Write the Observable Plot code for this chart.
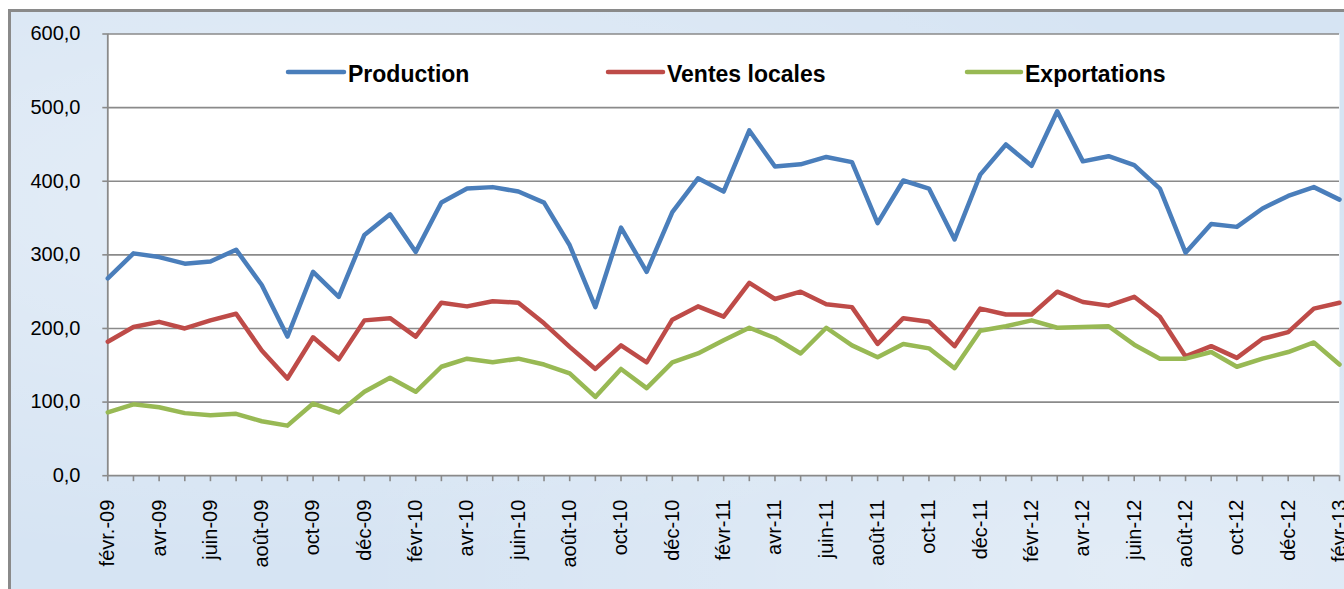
<!DOCTYPE html>
<html>
<head>
<meta charset="utf-8">
<script src="https://cdn.jsdelivr.net/npm/d3@7"></script>
<script src="https://cdn.jsdelivr.net/npm/@observablehq/plot@0.6"></script>
<style>
  html, body { margin: 0; padding: 0; background: #ffffff; }
  #wrap { position: relative; width: 1344px; height: 589px; overflow: hidden; }
  #bg {
    position: absolute; left: 8px; top: 9px; width: 1400px; height: 620px;
    border-left: 3px solid #8a8a8a; border-top: 3px solid #8a8a8a;
    background:
      radial-gradient(ellipse at 20% 30%, rgba(255,255,255,0.35), rgba(255,255,255,0) 60%),
      radial-gradient(ellipse at 80% 90%, rgba(255,255,255,0.3), rgba(255,255,255,0) 50%),
      #d6e4f3;
  }
  #chart { position: absolute; left: 0; top: 0; }
</style>
</head>
<body>
<div id="wrap"><div id="bg"></div><div id="chart"></div></div>
<script>
const months = [
  "févr.-09","mars-09","avr-09","mai-09","juin-09","juil.-09","août-09","sept.-09","oct-09","nov.-09","déc-09",
  "janv.-10","févr-10","mars-10","avr-10","mai-10","juin-10","juil.-10","août-10","sept.-10","oct-10","nov.-10","déc-10",
  "janv.-11","févr-11","mars-11","avr-11","mai-11","juin-11","juil.-11","août-11","sept.-11","oct-11","nov.-11","déc-11",
  "janv.-12","févr-12","mars-12","avr-12","mai-12","juin-12","juil.-12","août-12","sept.-12","oct-12","nov.-12","déc-12",
  "janv.-13","févr-13"
];
const xTickLabels = [
  "févr.-09","avr-09","juin-09","août-09","oct-09","déc-09",
  "févr-10","avr-10","juin-10","août-10","oct-10","déc-10",
  "févr-11","avr-11","juin-11","août-11","oct-11","déc-11",
  "févr-12","avr-12","juin-12","août-12","oct-12","déc-12","févr-13"
];
const production = [
  268,302,297,288,291,307,259,189,277,243,327,355,304,
  371,390,392,386,371,313,229,337,277,358,404,386,469,
  420,423,433,426,343,401,390,321,409,450,421,495,427,
  434,422,390,303,342,338,363,380,392,375
];
const ventesLocales = [
  182,202,209,200,211,220,170,132,188,158,211,214,189,
  235,230,237,235,207,175,145,177,154,212,230,216,262,
  240,250,233,229,179,214,209,176,227,219,219,250,236,
  231,243,216,162,176,160,186,195,227,235
];
const exportations = [
  86,97,93,85,82,84,74,68,98,86,114,133,114,
  148,159,154,159,151,139,107,145,119,154,166,184,201,
  187,166,201,177,161,179,173,146,197,203,211,201,202,
  203,178,159,159,168,148,159,168,181,151
];
const seriesNames = ["Production", "Ventes locales", "Exportations"];
const seriesColors = ["#4a7ebb", "#be4b48", "#98b954"];
const yTicks = [0, 100, 200, 300, 400, 500, 600];

const seriesValues = [production, ventesLocales, exportations];
const rows = [];
seriesNames.forEach((name, s) => {
  seriesValues[s].forEach((v, i) => rows.push({month: months[i], value: v, serie: name}));
});

const gray = "#8a8a8a";
const fmt = d => d.toFixed(1).replace(".", ",");

const chart = Plot.plot({
  width: 1344,
  height: 589,
  marginTop: 33.5,
  marginLeft: 107.3,
  marginRight: 5,
  marginBottom: 113.8,
  style: {background: "transparent", fontFamily: "'Liberation Sans', Arial, sans-serif", fontSize: "20px", color: "#000", overflow: "visible"},
  x: {type: "point", domain: months, padding: 0, axis: null},
  y: {domain: [0, 600], axis: null},
  color: {domain: seriesNames, range: seriesColors},
  marks: [
    Plot.frame({fill: "white", stroke: null}),
    Plot.ruleY(yTicks.slice(1), {stroke: gray, strokeWidth: 1.6}),
    Plot.axisY({ticks: yTicks, tickSize: 5, tickPadding: 22.3, tickFormat: fmt, label: null,
                stroke: gray, strokeWidth: 1.6, fontSize: 20, fill: "#000"}),
    Plot.axisX({ticks: months, tickSize: 6, tickFormat: () => "", label: null, stroke: gray, strokeWidth: 1.6}),
    Plot.ruleY([0], {stroke: gray, strokeWidth: 1.8}),
    Plot.ruleX([months[0]], {stroke: gray, strokeWidth: 1.8}),
    Plot.text(xTickLabels, {x: d => d, text: d => d, frameAnchor: "bottom", dy: 24, rotate: -90,
                            textAnchor: "end", lineAnchor: "middle", fontSize: 20, fill: "#000"}),
    Plot.line(rows, {x: "month", y: "value", z: "serie", stroke: "serie", strokeWidth: 4.5,
                     strokeLinejoin: "round", strokeLinecap: "round"})
  ]
});
document.getElementById("chart").appendChild(chart);

// Legend (inside plot area, top)
const legendPos = [
  {x1: 288, x2: 344, tx: 348},
  {x1: 608, x2: 663, tx: 667},
  {x1: 967, x2: 1021, tx: 1025}
];
const svg = d3.select(chart);
const lg = svg.append("g").attr("class", "legend").attr("text-anchor", "start");
seriesNames.forEach((name, i) => {
  const p = legendPos[i];
  lg.append("line").attr("x1", p.x1).attr("x2", p.x2).attr("y1", 72).attr("y2", 72)
    .attr("stroke", seriesColors[i]).attr("stroke-width", 4.5).attr("stroke-linecap", "round");
  lg.append("text").attr("x", p.tx).attr("y", 81.5).attr("text-anchor", "start")
    .attr("font-family", "'Liberation Sans', Arial, sans-serif").attr("font-weight", "bold")
    .attr("font-size", 23).attr("fill", "#000").text(name);
});
</script>
</body>
</html>
